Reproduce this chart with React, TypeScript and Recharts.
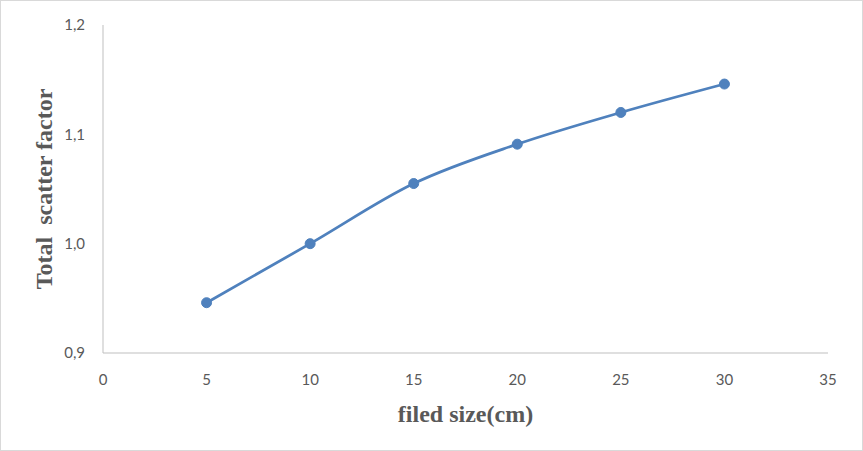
import { Label, Line, LineChart, XAxis, YAxis } from 'recharts';

const fieldSizes = [5, 10, 15, 20, 25, 30];
const scatterFactors = [0.946, 1.0, 1.055, 1.091, 1.12, 1.146];
const xTicks = [0, 5, 10, 15, 20, 25, 30, 35];
const yTicks = [0.9, 1.0, 1.1, 1.2];

const data = fieldSizes.map((size, i) => ({ size, factor: scatterFactors[i] }));

const tickStyle = { fill: '#595959', fontSize: 15, fontFamily: 'Lato, "Open Sans", sans-serif' };
const titleStyle = {
  fill: '#595959',
  fontSize: 24,
  fontWeight: 700,
  fontFamily: '"Liberation Serif", "Times New Roman", serif',
  whiteSpace: 'pre' as const,
};

function YTitle({ viewBox }: any) {
  const cx = 43;
  const cy = viewBox.y + viewBox.height / 2;
  return (
    <text x={cx} y={cy} transform={`rotate(-90, ${cx}, ${cy})`} textAnchor="middle" dominantBaseline="central" style={titleStyle}>
      Total  scatter factor
    </text>
  );
}

function XTitle({ viewBox }: any) {
  const cx = viewBox.x + viewBox.width / 2;
  return (
    <text x={cx} y={viewBox.y + 61} textAnchor="middle" dominantBaseline="central" style={titleStyle}>
      filed size(cm)
    </text>
  );
}

export default function App() {
  return (
    <div
      style={{
        position: 'absolute',
        left: 0,
        top: 0,
        width: 863,
        height: 451,
        boxSizing: 'border-box',
        border: '1px solid #d9d9d9',
        background: '#fff',
      }}
    >
      <LineChart width={861} height={449} data={data} margin={{ top: 24, right: 34, bottom: 0, left: 0 }}>
        <XAxis
          type="number"
          dataKey="size"
          domain={[0, 35]}
          ticks={xTicks}
          height={97}
          tickLine={false}
          tickSize={0}
          tickMargin={21}
          stroke="#bfbfbf"
          tick={tickStyle}
        >
          <Label content={XTitle} />
        </XAxis>
        <YAxis
          type="number"
          domain={[0.9, 1.2]}
          ticks={yTicks}
          width={102}
          tickLine={false}
          tickSize={0}
          tickMargin={18}
          stroke="#bfbfbf"
          tick={tickStyle}
          tickFormatter={(v: number) => v.toFixed(1).replace('.', ',')}
        >
          <Label content={YTitle} />
        </YAxis>
        <Line
          type="monotone"
          dataKey="factor"
          stroke="#4f81bd"
          strokeWidth={2.75}
          dot={{ r: 5, fill: '#4f81bd', stroke: '#4f81bd', strokeWidth: 1 }}
          isAnimationActive={false}
        />
      </LineChart>
    </div>
  );
}
